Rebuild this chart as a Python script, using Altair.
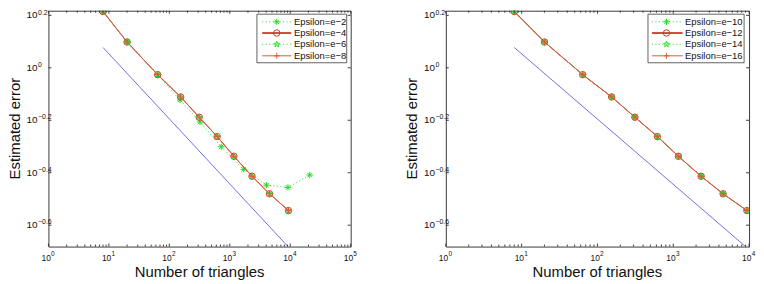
import math
import altair as alt
import pandas as pd

# ---------------- data ----------------
n_tri = [8, 20, 64, 154, 312, 618, 1170, 2330, 4540, 9350]
err_conv = [1.639, 1.254, 0.9415, 0.774, 0.648, 0.547, 0.460, 0.386, 0.331, 0.2856]

n_e2 = [8, 20, 64, 150, 322, 723, 1697, 4040, 9170, 21000]
err_e2 = [1.639, 1.254, 0.9415, 0.754, 0.621, 0.500, 0.410, 0.357, 0.350, 0.390]

ref_n_left = [8, 9400]
ref_n_right = [8, 9200]
ref_err = [1.195, 0.207]

left_labels = ["Epsilon=e\u22122", "Epsilon=e\u22124", "Epsilon=e\u22126", "Epsilon=e\u22128"]
right_labels = ["Epsilon=e\u221210", "Epsilon=e\u221212", "Epsilon=e\u221214", "Epsilon=e\u221216"]

y_tick_exp = [0.2, 0.0, -0.2, -0.4, -0.6]
y_tick_txt = ["0.2", "0", "\u22120.2", "\u22120.4", "\u22120.6"]
x_exp_left = [0, 1, 2, 3, 4, 5]
x_exp_right = [0, 1, 2, 3, 4]
minor_mult = [2, 3, 4, 5, 6, 7, 8, 9]

# ---------------- styles ----------------
FONT = "Liberation Sans"
GREEN = "#1ee01e"
DARKRED = "#c8392c"
RED = "#e4553f"
BLUE = "#6e6ee8"
AX = "#3a3a3a"

H = 238
Y_DOM = [10 ** -0.6815, 10 ** 0.2176]

ASTER = "M-1,0L1,0M0,-1L0,1M-0.7,-0.7L0.7,0.7M-0.7,0.7L0.7,-0.7"
PLUS = "M-1,0L1,0M0,-1L0,1"
pts = []
for i in range(10):
    r = 1.0 if i % 2 == 0 else 0.4
    a = -math.pi / 2 + i * math.pi / 5
    pts.append(f"{r*math.cos(a):.3f},{r*math.sin(a):.3f}")
STAR = "M" + "L".join(pts) + "Z"


def series_styles():
    return [
        dict(color=GREEN, width=1, lw=1, dash=[1, 2.5], shape=ASTER, size=40),
        dict(color=DARKRED, width=1, lw=1.8, dash=None, shape="circle", size=42),
        dict(color=GREEN, width=1, lw=1, dash=[1, 2.5], shape=STAR, size=40),
        dict(color=RED, width=1, lw=1, dash=None, shape=PLUS, size=36),
    ]


def one(label=None):
    return pd.DataFrame({"label": [label if label else ""]})


def panel(series, ref_n, x_exps, labels, width, leg):
    xs = alt.Scale(type="log", domain=[10 ** x_exps[0], 10 ** x_exps[-1]])
    ys = alt.Scale(type="log", domain=Y_DOM)
    layers = []

    # reference slope line
    ref_df = pd.DataFrame({"n": ref_n, "err": ref_err})
    layers.append(
        alt.Chart(ref_df).mark_line(color=BLUE, strokeWidth=1, clip=True).encode(
            x=alt.X("n:Q", scale=xs, axis=None), y=alt.Y("err:Q", scale=ys, axis=None)
        )
    )
    styles = series_styles()
    for (nx, ey), st in zip(series, styles):
        df = pd.DataFrame({"n": nx, "err": ey})
        lk = dict(color=st["color"], strokeWidth=st["width"], clip=True)
        if st["dash"]:
            lk["strokeDash"] = st["dash"]
        layers.append(
            alt.Chart(df).mark_line(**lk).encode(
                x=alt.X("n:Q", scale=xs, axis=None), y=alt.Y("err:Q", scale=ys, axis=None)
            )
        )
        layers.append(
            alt.Chart(df)
            .mark_point(shape=st["shape"], size=st["size"], filled=False,
                        stroke=st["color"], strokeWidth=1, opacity=1, clip=True)
            .encode(x=alt.X("n:Q", scale=xs, axis=None), y=alt.Y("err:Q", scale=ys, axis=None))
        )

    # ticks (inside, on all four sides)
    major = [10 ** e for e in x_exps]
    minor = [m * 10 ** e for e in x_exps[:-1] for m in minor_mult]
    for vals, ln in ((major, 3), (minor, 2)):
        tdf = pd.DataFrame({"v": vals})
        for y0, y1 in ((H, H - ln), (0, ln)):
            layers.append(
                alt.Chart(tdf).mark_rule(color=AX, strokeWidth=1).encode(
                    x=alt.X("v:Q", scale=xs, axis=None), y=alt.value(y0), y2=alt.value(y1)
                )
            )
    ydf = pd.DataFrame({"v": [10 ** e for e in y_tick_exp], "t": y_tick_txt})
    for x0, x1 in ((0, 3), (width, width - 3)):
        layers.append(
            alt.Chart(ydf).mark_rule(color=AX, strokeWidth=1).encode(
                y=alt.Y("v:Q", scale=ys, axis=None), x=alt.value(x0), x2=alt.value(x1)
            )
        )
    # y tick labels
    layers.append(
        alt.Chart(ydf).mark_text(align="right", baseline="middle", font=FONT, fontSize=10, color="#111").encode(
            y=alt.Y("v:Q", scale=ys, axis=None), x=alt.value(-11), text=alt.value("10")
        )
    )
    layers.append(
        alt.Chart(ydf).mark_text(align="left", baseline="middle", font=FONT, fontSize=7, dy=-2.8, color="#111").encode(
            y=alt.Y("v:Q", scale=ys, axis=None), x=alt.value(-10.5), text="t:N"
        )
    )
    # x tick labels
    xdf = pd.DataFrame({"v": major, "t": [str(e) for e in x_exps]})
    layers.append(
        alt.Chart(xdf).mark_text(align="right", baseline="middle", font=FONT, fontSize=8.5, dx=2.4, color="#111").encode(
            x=alt.X("v:Q", scale=xs, axis=None), y=alt.value(H + 11.5), text=alt.value("10")
        )
    )
    layers.append(
        alt.Chart(xdf).mark_text(align="left", baseline="middle", font=FONT, fontSize=6.5, dx=2.7, color="#111").encode(
            x=alt.X("v:Q", scale=xs, axis=None), y=alt.value(H + 8), text="t:N"
        )
    )
    # axis titles
    layers.append(
        alt.Chart(one("Number of triangles")).mark_text(align="center", baseline="middle", font=FONT, fontSize=15, color="#111").encode(
            x=alt.value(width / 2), y=alt.value(H + 25.7), text="label:N"
        )
    )
    layers.append(
        alt.Chart(one("Estimated error")).mark_text(align="center", baseline="middle", font=FONT, fontSize=15, angle=270, color="#111").encode(
            x=alt.value(-34), y=alt.value(H / 2), text="label:N"
        )
    )
    # legend
    bx0, bx1, lx0, lx1, mx, tx = leg
    layers.append(
        alt.Chart(one()).mark_rect(fill="white", stroke=AX, strokeWidth=0.8).encode(
            x=alt.value(bx0), x2=alt.value(bx1), y=alt.value(3.5), y2=alt.value(52.5)
        )
    )
    rows = [11.2, 22.5, 33.9, 45.5]
    for lab, st, ry in zip(labels, styles, rows):
        rk = dict(color=st["color"], strokeWidth=st["lw"])
        if st["dash"]:
            rk["strokeDash"] = st["dash"]
        layers.append(
            alt.Chart(one()).mark_rule(**rk).encode(
                x=alt.value(lx0), x2=alt.value(lx1), y=alt.value(ry)
            )
        )
        layers.append(
            alt.Chart(one()).mark_point(shape=st["shape"], size=st["size"], filled=False,
                                        stroke=st["color"], strokeWidth=1, opacity=1).encode(
                x=alt.value(mx), y=alt.value(ry)
            )
        )
        layers.append(
            alt.Chart(one(lab)).mark_text(align="left", baseline="middle", font=FONT, fontSize=9.5, color="#111").encode(
                x=alt.value(tx), y=alt.value(ry), text="label:N"
            )
        )
    return alt.layer(*layers).properties(width=width, height=H)


left_series = [(n_e2, err_e2), (n_tri, err_conv), (n_tri, err_conv), (n_tri, err_conv)]
right_series = [(n_tri, err_conv)] * 4

left = panel(left_series, ref_n_left, x_exp_left, left_labels, 305,
             (210.4, 301, 215.7, 245, 230.4, 247.7))
right = panel(right_series, ref_n_right, x_exp_right, right_labels, 306,
              (204, 301, 208, 239, 222.7, 241.4))

chart = (
    alt.hconcat(left, right, spacing=96, bounds="flush")
    .properties(padding={"left": -1.2, "top": -1.5, "right": 0, "bottom": 0})
    .configure_view(stroke=AX, strokeWidth=1)
)

chart.save("out.html", embed_options={"renderer": "svg", "actions": False})
